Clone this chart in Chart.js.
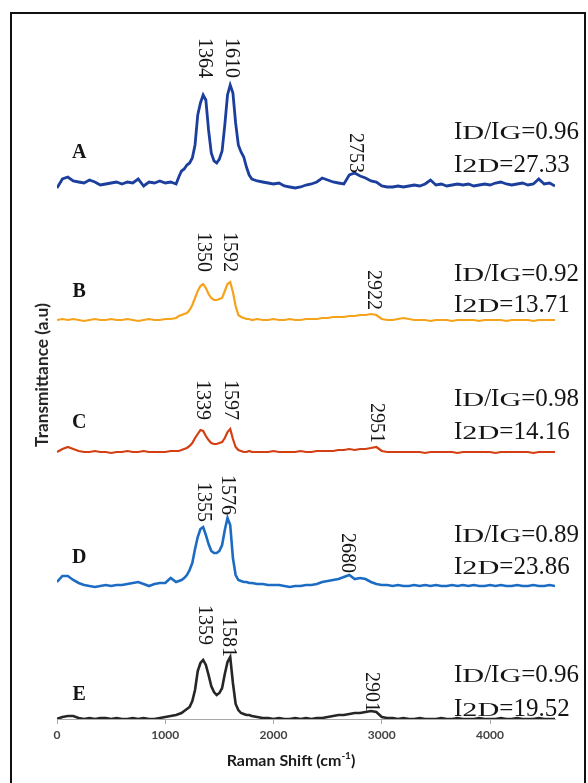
<!DOCTYPE html>
<html>
<head>
<meta charset="utf-8">
<script src="https://cdn.jsdelivr.net/npm/chart.js@4/dist/chart.umd.min.js"></script>
<style>
  html, body { margin: 0; padding: 0; background: #fff; }
  #wrap { width: 588px; height: 783px; position: relative; }
</style>
</head>
<body>
<div id="wrap"><canvas id="raman"></canvas></div>
<script>
// Raman shift grid (cm-1), shared by all spectra
const wavenumber = [
  0, 50, 100, 150, 200, 250, 300, 350, 400, 450, 500, 550, 600, 650, 700, 750, 800, 850, 900, 950, 1000, 1050, 1100,
  1125, 1150, 1175, 1200, 1225, 1250, 1275, 1300, 1325, 1350, 1375, 1400, 1425, 1450, 1475, 1500, 1525, 1550, 1575, 1600, 1625, 1650, 1675, 1700, 1725, 1750, 1775,
  1800, 1850, 1900, 1950, 2000, 2050, 2100, 2150, 2200, 2250, 2300, 2350, 2400, 2450, 2500, 2550, 2600, 2650, 2700, 2750, 2800, 2850, 2900, 2950,
  3000, 3050, 3100, 3150, 3200, 3250, 3300, 3350, 3400, 3450, 3500, 3550, 3600, 3650, 3700, 3750, 3800, 3850, 3900, 3950,
  4000, 4050, 4100, 4150, 4200, 4250, 4300, 4350, 4400, 4450, 4500, 4550, 4600
];

// intensities above each trace's own baseline (a.u.)
const spectrumA = [
  -3, 6, 8, 4, 3, 2, 5, 3, 0, 1, 2, 3, 1, 3, 2, 6, -1, 3, 2, 4, 2, 3, 1,
  8, 14, 16, 20, 22, 27, 40, 70, 82, 90, 85, 55, 32, 24, 22, 26, 34, 60, 90, 100, 92, 62, 40, 33, 28, 18, 10,
  6, 4, 3, 2, 1, 2, -1, -2, -3, -2, 0, 1, 3, 7, 5, 3, 2, 1, 10, 12, 9, 7, 4, 3,
  -1, -2, -2, -1, -2, -1, 0, -1, 1, 5, 0, 1, -1, 0, 1, 0, 1, -1, 0, 1,
  0, 2, 3, 1, 0, 1, 2, 0, 1, 6, 1, 2, -1
];
const spectrumB = [
  0, 1, 0, 1, 0, -1, 0, 1, 0, 0, 1, 0, 0, 1, 0, -1, 0, 1, 0, 0, 1, 1, 2,
  4, 5, 6, 7, 10, 15, 22, 29, 34, 36, 32, 26, 22, 20, 20, 21, 22, 29, 36, 38, 28, 14, 5, 3, 2, 1, 1,
  0, 1, 0, 0, 1, 0, 0, 1, 0, 0, 1, 1, 1, 2, 2, 3, 3, 3, 4, 4, 5, 5, 6, 5,
  1, 0, 0, 1, 2, 1, 0, 0, 0, -1, 0, 0, 0, -1, 0, 0, 0, 0, -1, 0,
  0, 0, 0, -1, 0, 0, 0, 0, -1, 0, 0, 0, 0
];
const spectrumC = [
  0, 3, 5, 3, 1, 0, 0, 1, 0, 0, -1, 0, 0, 1, 0, 0, 1, 0, 0, 0, 0, 1, 1,
  1, 2, 3, 4, 6, 9, 14, 18, 22, 21, 16, 12, 9, 8, 8, 9, 10, 14, 20, 23, 13, 5, 2, 1, 0, 0, 1,
  0, 0, 0, 0, 1, 0, 0, 0, 0, 1, 0, 0, 1, 1, 1, 1, 2, 2, 3, 2, 3, 3, 4, 5,
  1, 0, 0, 0, 0, 0, 0, 0, -1, 0, 0, 0, 0, 0, -1, 0, 0, 0, 0, 0,
  0, -1, 0, 0, 0, 0, 0, 0, -1, 0, 0, 0, 0
];
const spectrumD = [
  3, 9, 9, 5, 2, 0, -1, -2, -1, 0, -1, 0, 0, 1, 2, 3, 1, -1, 1, 2, 2, 7, 3,
  4, 5, 7, 10, 15, 22, 36, 48, 56, 58, 50, 41, 34, 32, 32, 34, 40, 55, 67, 60, 27, 10, 5, 4, 3, 3, 2,
  2, 1, 1, 0, 0, 0, -1, -2, -1, -1, 0, 0, 1, 3, 4, 5, 6, 8, 10, 6, 7, 6, 3, 1,
  0, 0, -1, 0, -1, -1, 0, -1, 0, -1, 0, -1, -1, 0, -1, 0, -1, 0, -1, -1,
  0, -1, 0, -1, -1, 0, -1, -1, 0, -1, -1, 0, -1
];
const spectrumE = [
  0, 2, 3, 3, 1, 0, 1, 0, 1, 1, 0, 1, 0, 0, 1, 0, 1, 0, 0, 1, 2, 3, 4,
  5, 6, 8, 10, 12, 18, 29, 48, 56, 59, 54, 44, 33, 27, 24, 26, 31, 45, 57, 62, 36, 15, 9, 6, 5, 4, 4,
  3, 2, 1, 1, 0, 1, 0, 0, 1, 0, 1, 0, 1, 1, 2, 3, 4, 4, 5, 6, 6, 7, 8, 7,
  2, 1, 1, 0, 1, 0, 0, 1, 0, 0, 0, 1, 0, 0, 1, 0, 0, 0, 1, 0,
  0, 0, 1, 0, 0, 1, 0, 0, 0, 1, 0, 0, 0
];

const sampleNames = ['A', 'B', 'C', 'D', 'E'];
const baselines = [534, 399, 267, 134, 0];   // vertical stacking offset of each trace
const peakPositions = [[1364, 1610, 2753], [1350, 1592, 2922], [1339, 1597, 2951], [1355, 1576, 2680], [1359, 1581, 2901]];
const peakLabelEnds = [[107, 107, 12], [48, 48, 10], [32, 32, 9], [63, 70, 12], [74, 62, 7]];
const idIgRatios = ['0.96', '0.92', '0.98', '0.89', '0.96'];
const i2dValues = ['27.33', '13.71', '14.16', '23.86', '19.52'];
const xTicks = [0, 1000, 2000, 3000, 4000];

const colors = ['#1c3f9e', '#f6a31c', '#d33f12', '#1d6cc3', '#262626'];
const widths = [2.8, 2.2, 2.2, 2.6, 2.6];
const letterOffsets = [32, 28, 29, 27, 24];
const ratioLine1 = [55, 48, 55, 52, 46];
const ratioLine2 = [22, 17, 22, 20, 12];

const spectra = [spectrumA, spectrumB, spectrumC, spectrumD, spectrumE];

const datasets = spectra.map((s, i) => ({
  label: sampleNames[i],
  data: s.map((v, j) => ({ x: wavenumber[j], y: v + baselines[i] })),
  borderColor: colors[i],
  borderWidth: widths[i],
  pointRadius: 0,
  tension: 0,
  fill: false
}));

const SERIF = '"Liberation Serif", "Times New Roman", serif';
const SANS = 'Lato, "Open Sans", sans-serif';

// draws "I" + wide small-caps subscript + ... like I_D/I_G=0.96
function drawRatio(ctx, x, yCenter, parts) {
  const base = yCenter + 8.5;
  ctx.textBaseline = 'alphabetic';
  ctx.textAlign = 'left';
  parts.forEach(([txt, sub]) => {
    if (sub) {
      ctx.font = '18px ' + SERIF;
      const w = ctx.measureText(txt).width;
      ctx.save();
      ctx.translate(x, base);
      ctx.scale(1.68, 1);
      ctx.fillText(txt, 0, 0);
      ctx.restore();
      x += w * 1.68;
    } else {
      ctx.font = '25px ' + SERIF;
      ctx.fillText(txt, x, base);
      x += ctx.measureText(txt).width;
    }
  });
}

// font size that makes the text the given width
function fitSize(ctx, text, weight, target) {
  ctx.font = weight + ' 20px ' + SANS;
  return 20 * target / ctx.measureText(text).width;
}

const decorations = {
  id: 'decorations',
  beforeDraw(chart) {
    const ctx = chart.ctx;
    ctx.save();
    ctx.fillStyle = '#fff';
    ctx.fillRect(0, 0, chart.width, chart.height);
    ctx.restore();
  },
  afterDatasetsDraw(chart) {
    const ctx = chart.ctx;
    const xs = chart.scales.x, ys = chart.scales.y;
    ctx.save();

    // frame
    ctx.strokeStyle = '#111';
    ctx.lineWidth = 2;
    ctx.strokeRect(11, 13, 574, 800);

    ctx.fillStyle = '#151515';
    sampleNames.forEach((name, i) => {
      // sample letter
      ctx.font = 'bold 20px ' + SERIF;
      ctx.textAlign = 'center';
      ctx.textBaseline = 'middle';
      ctx.fillText(name, xs.getPixelForValue(205), ys.getPixelForValue(baselines[i] + letterOffsets[i]));

      // peak labels, rotated
      ctx.font = '20px ' + SERIF;
      peakPositions[i].forEach((p, k) => {
        ctx.save();
        ctx.translate(xs.getPixelForValue(p), ys.getPixelForValue(baselines[i] + peakLabelEnds[i][k]));
        ctx.rotate(Math.PI / 2);
        ctx.textAlign = 'right';
        ctx.textBaseline = 'middle';
        ctx.fillText(String(p), 0, 0);
        ctx.restore();
      });

      // ratio labels
      const lx = 454;
      drawRatio(ctx, lx, ys.getPixelForValue(baselines[i] + ratioLine1[i]),
        [['I', false], ['D', true], ['/I', false], ['G', true], ['=' + idIgRatios[i], false]]);
      drawRatio(ctx, lx, ys.getPixelForValue(baselines[i] + ratioLine2[i]),
        [['I', false], ['2D', true], ['=' + i2dValues[i], false]]);
    });

    // y axis title
    const yTitle = 'Transmittance (a.u)';
    const ySize = fitSize(ctx, yTitle, 'bold', 144);
    ctx.save();
    ctx.translate(42, 375);
    ctx.rotate(-Math.PI / 2);
    ctx.font = 'bold ' + ySize.toFixed(1) + 'px ' + SANS;
    ctx.fillStyle = '#262626';
    ctx.textAlign = 'center';
    ctx.textBaseline = 'middle';
    ctx.fillText(yTitle, 0, 0);
    ctx.restore();

    // x axis title with superscript
    ctx.fillStyle = '#1a1a1a';
    ctx.textBaseline = 'alphabetic';
    ctx.textAlign = 'left';
    const mainFont = 'bold 16px ' + SANS;
    const supFont = 'bold 10px ' + SANS;
    ctx.font = mainFont;
    const w1 = ctx.measureText('Raman Shift (cm').width;
    const w3 = ctx.measureText(')').width;
    ctx.font = supFont;
    const w2 = ctx.measureText('-1').width;
    let tx = 291 - (w1 + w2 + w3) / 2;
    const ty = 766;
    ctx.font = mainFont;
    ctx.fillText('Raman Shift (cm', tx, ty);
    tx += w1;
    ctx.font = supFont;
    ctx.fillText('-1', tx, ty - 7);
    tx += w2;
    ctx.font = mainFont;
    ctx.fillText(')', tx, ty);

    ctx.restore();
  }
};

new Chart(document.getElementById('raman'), {
  type: 'line',
  data: { datasets },
  options: {
    responsive: true,
    maintainAspectRatio: false,
    devicePixelRatio: 1,
    animation: false,
    layout: { padding: { left: 57, right: 33, top: 19, bottom: 0 } },
    plugins: { legend: { display: false }, tooltip: { enabled: false } },
    scales: {
      x: {
        type: 'linear',
        min: 0,
        max: 4600,
        afterFit: s => { s.height = 64; },
        afterBuildTicks: s => { s.ticks = xTicks.map(v => ({ value: v })); },
        ticks: {
          includeBounds: false,
          padding: 4,
          color: '#444',
          font: { family: SANS, size: 12, weight: 'bold' },
          callback: v => String(v)
        },
        grid: { drawOnChartArea: false, drawTicks: true, tickLength: 5, color: '#aaa' },
        border: { display: true, color: '#aaa', width: 1 }
      },
      y: { display: false, min: 0, max: 700 }
    }
  },
  plugins: [decorations]
});
</script>
</body>
</html>
